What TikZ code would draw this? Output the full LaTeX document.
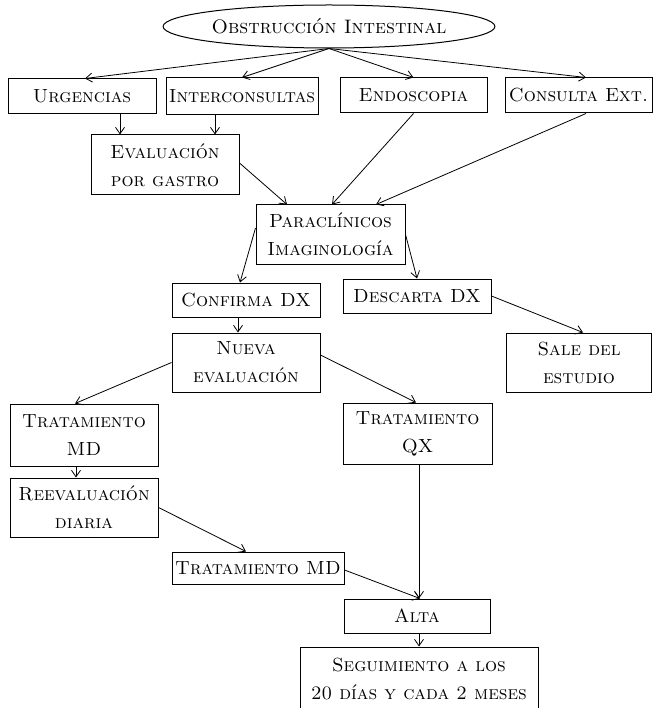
\documentclass[tikz,border=0pt]{standalone}
\usepackage{fontspec}
\usetikzlibrary{arrows.meta,shapes.geometric}
\tikzset{
  box/.style={draw=black, line width=1pt, rectangle, inner sep=0pt, align=center,
    font=\fontsize{19}{28}\selectfont\scshape},
  oval/.style={draw=black, line width=1pt, ellipse, inner sep=0pt, align=center,
    font=\fontsize{19.5}{28}\selectfont\scshape},
  arr/.style={draw=black, line width=0.8pt, -{Straight Barb[length=6.5pt,width=9pt,line width=0.8pt]}},
}
\begin{document}
\begin{tikzpicture}[x=1pt,y=-1pt]
\useasboundingbox (0,0) rectangle (653,708);
\fill[white] (0,0) rectangle (653,708);

\node[oval, minimum width=284, minimum height=43] (obs) at (329,26.5) {Obstrucción Intestinal};

\node[box, minimum width=148, minimum height=35] (urg) at (82,96.5) {Urgencias};
\node[box, minimum width=152, minimum height=37] (inter) at (242,96.5) {Interconsultas};
\node[box, minimum width=147, minimum height=35] (endo) at (413.5,95.5) {Endoscopia};
\node[box, minimum width=147, minimum height=35] (cons) at (578.5,95.5) {Consulta Ext.};

\node[box, minimum width=148, minimum height=60] (eval) at (165,165) {Evaluación\\por gastro};
\node[box, minimum width=149, minimum height=59] (para) at (330.5,234.5) {Paraclínicos\\Imaginología};

\node[box, minimum width=148, minimum height=34] (conf) at (246,300) {Confirma DX};
\node[box, minimum width=148, minimum height=34] (desc) at (417,296) {Descarta DX};
\node[box, minimum width=145, minimum height=59] (sale) at (579,362.5) {Sale del\\estudio};
\node[box, minimum width=148, minimum height=59] (nueva) at (246,362.5) {Nueva\\evaluación};

\node[box, minimum width=148, minimum height=62] (tmd) at (84,435) {Tratamiento\\MD};
\node[box, minimum width=149, minimum height=61] (qx) at (417.5,433.5) {Tratamiento\\QX};
\node[box, minimum width=148, minimum height=59] (reev) at (84,507.5) {Reevaluación\\diaria};
\node[box, minimum width=172, minimum height=32] (tmd2) at (258,568) {Tratamiento MD};
\node[box, minimum width=146, minimum height=34] (alta) at (417,616) {Alta};
\node[box, minimum width=238, minimum height=65] (seg) at (419,679.5) {Seguimiento a los\\20 días y cada 2 meses};

\draw[arr] (obs.south) -- ([xshift=3]urg.north);
\draw[arr] (obs.south) -- (inter.north);
\draw[arr] (obs.south) -- (endo.north);
\draw[arr] (obs.south) -- ([xshift=7.5]cons.north);

\draw[arr] ([xshift=38]urg.south) -- ([xshift=-45]eval.north);
\draw[arr] ([xshift=-27]inter.south) -- ([xshift=50]eval.north);
\draw[arr] ([yshift=2]eval.east) -- ([xshift=-43.5]para.north);
\draw[arr] (endo.south) -- ([xshift=1.5]para.north);
\draw[arr] ([xshift=7.5]cons.south) -- ([xshift=45.5]para.north);

\draw[arr] ([yshift=6.5]para.west) -- ([xshift=-6]conf.north);
\draw[arr] (para.east) -- (desc.north);
\draw[arr] ([xshift=-8]conf.south) -- ([xshift=-8]nueva.north);
\draw[arr] (desc.east) -- ([xshift=4]sale.north);

\draw[arr] (nueva.west) -- ([xshift=-9]tmd.north);
\draw[arr] ([yshift=7.5]nueva.east) -- ([xshift=-1.5]qx.north);
\draw[arr] ([xshift=-8]tmd.south) -- ([xshift=-8]reev.north);
\draw[arr] (reev.east) -- ([xshift=-12]tmd2.north);
\draw[arr] ([yshift=-2]tmd2.east) -- ([xshift=3]alta.north);
\draw[arr] ([xshift=1.5]qx.south) -- ([xshift=2]alta.north);
\draw[arr] ([xshift=2]alta.south) -- (seg.north);
\end{tikzpicture}
\end{document}
